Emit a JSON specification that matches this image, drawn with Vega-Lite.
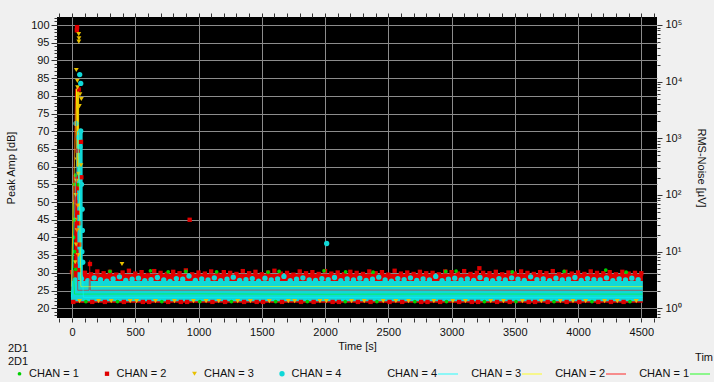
{
  "$schema": "https://vega.github.io/schema/vega-lite/v6.json",
  "width": 600,
  "height": 301,
  "autosize": {"type": "none"},
  "padding": {"left": 57, "top": 17, "right": 57, "bottom": 64},
  "background": "#f0f0f0",
  "config": {
    "font": "Liberation Sans",
    "view": {"fill": "#000000", "stroke": null},
    "axis": {"labelFontSize": 11, "labelColor": "#111111", "titleFontSize": 11, "titleFontWeight": "normal", "titleColor": "#111111", "tickColor": "#333333", "domain": false, "labelOverlap": false, "labelFlush": false},
    "legend": {"labelFontSize": 11, "labelColor": "#111111", "titleFontSize": 11, "titleFontWeight": "normal", "titleColor": "#111111"}
  },
  "datasets": {
    "blocks": [
      {"t1": -8, "t2": 4512, "a1": 21.6, "a2": 29.7, "c": 2},
      {"t1": -8, "t2": 120, "a1": 27, "a2": 30.6, "c": 2},
      {"t1": -8, "t2": 4512, "a1": 22.0, "a2": 27.7, "c": 4},
      {"t1": 18, "t2": 62, "a1": 30, "a2": 58, "c": 2},
      {"t1": 40, "t2": 84, "a1": 28, "a2": 70, "c": 4},
      {"t1": 32, "t2": 56, "a1": 60, "a2": 82, "c": 3}
    ],
    "rms": [
      {"t": -5, "v": 1.78, "c": 1}, {"t": 8, "v": 75, "c": 1}, {"t": 12, "v": 4.2, "c": 1}, {"t": 20, "v": 1.78, "c": 1}, {"t": 1000, "v": 1.8, "c": 1}, {"t": 2000, "v": 1.77, "c": 1}, {"t": 3000, "v": 1.79, "c": 1}, {"t": 4000, "v": 1.78, "c": 1}, {"t": 4510, "v": 1.78, "c": 1},
      {"t": -5, "v": 2.08, "c": 2}, {"t": 28, "v": 7500, "c": 2}, {"t": 32, "v": 1000, "c": 2}, {"t": 45, "v": 2.08, "c": 2}, {"t": 135, "v": 2.08, "c": 2}, {"t": 140, "v": 7, "c": 2}, {"t": 145, "v": 2.08, "c": 2}, {"t": 2000, "v": 2.1, "c": 2}, {"t": 4510, "v": 2.08, "c": 2},
      {"t": -5, "v": 2.41, "c": 3}, {"t": 35, "v": 7500, "c": 3}, {"t": 55, "v": 316, "c": 3}, {"t": 70, "v": 2.41, "c": 3}, {"t": 2000, "v": 2.43, "c": 3}, {"t": 4510, "v": 2.41, "c": 3},
      {"t": -5, "v": 1.56, "c": 4}, {"t": 45, "v": 1333, "c": 4}, {"t": 80, "v": 5.6, "c": 4}, {"t": 90, "v": 1.56, "c": 4}, {"t": 4510, "v": 1.56, "c": 4}
    ],
    "pts": [
      {"t":0,"a":30.2,"c":2},{"t":50,"a":30.8,"c":2},{"t":100,"a":30.0,"c":2},{"t":150,"a":29.6,"c":2},{"t":200,"a":30.4,"c":2},{"t":250,"a":29.9,"c":2},{"t":300,"a":30.3,"c":2},{"t":350,"a":29.5,"c":2},{"t":400,"a":30.1,"c":2},{"t":450,"a":30.6,"c":2},
      {"t":500,"a":29.8,"c":2},{"t":550,"a":30.2,"c":2},{"t":600,"a":29.4,"c":2},{"t":650,"a":30.5,"c":2},{"t":700,"a":30.0,"c":2},{"t":750,"a":29.7,"c":2},{"t":800,"a":30.3,"c":2},{"t":850,"a":29.9,"c":2},{"t":900,"a":30.7,"c":2},{"t":950,"a":29.6,"c":2},
      {"t":1000,"a":30.1,"c":2},{"t":1050,"a":29.8,"c":2},{"t":1100,"a":30.4,"c":2},{"t":1150,"a":29.5,"c":2},{"t":1200,"a":30.2,"c":2},{"t":1250,"a":30.0,"c":2},{"t":1300,"a":29.7,"c":2},{"t":1350,"a":30.5,"c":2},{"t":1400,"a":29.9,"c":2},{"t":1450,"a":30.3,"c":2},
      {"t":1500,"a":29.6,"c":2},{"t":1550,"a":30.1,"c":2},{"t":1600,"a":30.6,"c":2},{"t":1650,"a":29.8,"c":2},{"t":1700,"a":30.0,"c":2},{"t":1750,"a":29.5,"c":2},{"t":1800,"a":30.4,"c":2},{"t":1850,"a":29.9,"c":2},{"t":1900,"a":30.2,"c":2},{"t":1950,"a":29.7,"c":2},
      {"t":2000,"a":30.5,"c":2},{"t":2050,"a":29.8,"c":2},{"t":2100,"a":30.1,"c":2},{"t":2150,"a":29.6,"c":2},{"t":2200,"a":30.3,"c":2},{"t":2250,"a":30.0,"c":2},{"t":2300,"a":29.7,"c":2},{"t":2350,"a":30.4,"c":2},{"t":2400,"a":29.9,"c":2},{"t":2450,"a":30.2,"c":2},
      {"t":2500,"a":29.5,"c":2},{"t":2550,"a":30.6,"c":2},{"t":2600,"a":29.8,"c":2},{"t":2650,"a":30.1,"c":2},{"t":2700,"a":29.7,"c":2},{"t":2750,"a":30.3,"c":2},{"t":2800,"a":29.9,"c":2},{"t":2850,"a":30.0,"c":2},{"t":2900,"a":29.6,"c":2},{"t":2950,"a":30.4,"c":2},
      {"t":3000,"a":30.2,"c":2},{"t":3050,"a":29.8,"c":2},{"t":3100,"a":30.5,"c":2},{"t":3150,"a":29.7,"c":2},{"t":3200,"a":30.0,"c":2},{"t":3250,"a":30.0,"c":2},{"t":3300,"a":29.9,"c":2},{"t":3350,"a":30.3,"c":2},{"t":3400,"a":29.6,"c":2},{"t":3450,"a":30.1,"c":2},
      {"t":3500,"a":29.8,"c":2},{"t":3550,"a":30.4,"c":2},{"t":3600,"a":30.0,"c":2},{"t":3650,"a":29.7,"c":2},{"t":3700,"a":30.2,"c":2},{"t":3750,"a":29.9,"c":2},{"t":3800,"a":30.5,"c":2},{"t":3850,"a":29.6,"c":2},{"t":3900,"a":30.3,"c":2},{"t":3950,"a":29.8,"c":2},
      {"t":4000,"a":30.1,"c":2},{"t":4050,"a":29.7,"c":2},{"t":4100,"a":30.4,"c":2},{"t":4150,"a":30.0,"c":2},{"t":4200,"a":29.9,"c":2},{"t":4250,"a":30.2,"c":2},{"t":4300,"a":29.6,"c":2},{"t":4350,"a":30.3,"c":2},{"t":4400,"a":29.8,"c":2},{"t":4450,"a":30.0,"c":2},
      {"t":4500,"a":29.9,"c":2},{"t":3220,"a":31.3,"c":2},{"t":930,"a":45.0,"c":2},
      {"t":620,"a":30.6,"c":1},{"t":900,"a":30.4,"c":1},{"t":1143,"a":30.3,"c":1},{"t":1550,"a":30.2,"c":1},{"t":1637,"a":30.4,"c":1},{"t":1992,"a":30.6,"c":1},{"t":2163,"a":30.3,"c":1},{"t":2380,"a":30.2,"c":1},{"t":2954,"a":30.4,"c":1},{"t":3036,"a":30.5,"c":1},{"t":3480,"a":30.3,"c":1},{"t":3890,"a":30.4,"c":1},{"t":4219,"a":30.8,"c":1},{"t":4380,"a":30.2,"c":1},{"t":300,"a":30.4,"c":1},{"t":760,"a":30.3,"c":1},
      {"t":25,"a":28.0,"c":4},{"t":75,"a":28.4,"c":4},{"t":125,"a":27.8,"c":4},{"t":175,"a":28.6,"c":4},{"t":225,"a":28.1,"c":4},{"t":275,"a":27.7,"c":4},{"t":325,"a":28.3,"c":4},{"t":375,"a":28.9,"c":4},{"t":425,"a":27.9,"c":4},{"t":475,"a":28.2,"c":4},
      {"t":525,"a":28.5,"c":4},{"t":575,"a":27.8,"c":4},{"t":625,"a":28.1,"c":4},{"t":675,"a":28.7,"c":4},{"t":725,"a":28.0,"c":4},{"t":775,"a":27.6,"c":4},{"t":825,"a":28.4,"c":4},{"t":875,"a":28.2,"c":4},{"t":925,"a":29.1,"c":4},{"t":975,"a":27.9,"c":4},
      {"t":1025,"a":28.3,"c":4},{"t":1075,"a":28.0,"c":4},{"t":1125,"a":28.6,"c":4},{"t":1175,"a":27.8,"c":4},{"t":1225,"a":28.2,"c":4},{"t":1275,"a":28.8,"c":4},{"t":1325,"a":27.9,"c":4},{"t":1375,"a":28.1,"c":4},{"t":1425,"a":28.4,"c":4},{"t":1475,"a":27.7,"c":4},
      {"t":1525,"a":28.5,"c":4},{"t":1575,"a":28.0,"c":4},{"t":1625,"a":28.3,"c":4},{"t":1675,"a":29.0,"c":4},{"t":1725,"a":27.8,"c":4},{"t":1775,"a":28.2,"c":4},{"t":1825,"a":28.6,"c":4},{"t":1875,"a":28.0,"c":4},{"t":1925,"a":27.9,"c":4},{"t":1975,"a":28.4,"c":4},
      {"t":2025,"a":28.1,"c":4},{"t":2075,"a":28.7,"c":4},{"t":2125,"a":27.8,"c":4},{"t":2175,"a":28.3,"c":4},{"t":2225,"a":28.0,"c":4},{"t":2275,"a":28.5,"c":4},{"t":2325,"a":27.9,"c":4},{"t":2375,"a":28.2,"c":4},{"t":2425,"a":28.8,"c":4},{"t":2475,"a":28.0,"c":4},
      {"t":2525,"a":27.7,"c":4},{"t":2575,"a":28.4,"c":4},{"t":2625,"a":28.1,"c":4},{"t":2675,"a":28.6,"c":4},{"t":2725,"a":27.9,"c":4},{"t":2775,"a":28.3,"c":4},{"t":2825,"a":28.0,"c":4},{"t":2875,"a":29.0,"c":4},{"t":2925,"a":27.8,"c":4},{"t":2975,"a":28.2,"c":4},
      {"t":3025,"a":28.5,"c":4},{"t":3075,"a":28.0,"c":4},{"t":3125,"a":28.3,"c":4},{"t":3175,"a":27.9,"c":4},{"t":3225,"a":28.7,"c":4},{"t":3275,"a":28.1,"c":4},{"t":3325,"a":27.8,"c":4},{"t":3375,"a":28.4,"c":4},{"t":3425,"a":28.0,"c":4},{"t":3475,"a":28.6,"c":4},
      {"t":3525,"a":28.2,"c":4},{"t":3575,"a":27.9,"c":4},{"t":3625,"a":28.9,"c":4},{"t":3675,"a":28.1,"c":4},{"t":3725,"a":28.3,"c":4},{"t":3775,"a":27.8,"c":4},{"t":3825,"a":28.5,"c":4},{"t":3875,"a":28.0,"c":4},{"t":3925,"a":28.2,"c":4},{"t":3975,"a":28.7,"c":4},
      {"t":4025,"a":27.9,"c":4},{"t":4075,"a":28.4,"c":4},{"t":4125,"a":28.1,"c":4},{"t":4175,"a":28.0,"c":4},{"t":4225,"a":28.6,"c":4},{"t":4275,"a":27.8,"c":4},{"t":4325,"a":28.3,"c":4},{"t":4375,"a":28.0,"c":4},{"t":4425,"a":28.5,"c":4},{"t":4475,"a":28.1,"c":4},
      {"t":2013,"a":38.3,"c":4},
      {"t":10,"a":21.8,"c":2},{"t":60,"a":22.0,"c":3},{"t":110,"a":21.9,"c":1},{"t":160,"a":21.8,"c":2},{"t":210,"a":22.0,"c":3},{"t":260,"a":21.8,"c":2},{"t":310,"a":22.0,"c":3},{"t":360,"a":21.9,"c":1},{"t":410,"a":21.8,"c":2},{"t":460,"a":22.0,"c":3},
      {"t":510,"a":22.0,"c":3},{"t":560,"a":21.8,"c":2},{"t":610,"a":21.8,"c":2},{"t":660,"a":22.0,"c":3},{"t":710,"a":21.9,"c":1},{"t":760,"a":21.8,"c":2},{"t":810,"a":22.0,"c":3},{"t":860,"a":21.8,"c":2},{"t":910,"a":21.8,"c":2},{"t":960,"a":22.0,"c":3},
      {"t":1010,"a":21.9,"c":1},{"t":1060,"a":22.0,"c":3},{"t":1110,"a":21.8,"c":2},{"t":1160,"a":22.0,"c":3},{"t":1210,"a":21.8,"c":2},{"t":1260,"a":21.9,"c":1},{"t":1310,"a":22.0,"c":3},{"t":1360,"a":21.8,"c":2},{"t":1410,"a":22.0,"c":3},{"t":1460,"a":21.8,"c":2},
      {"t":1510,"a":21.8,"c":2},{"t":1560,"a":22.0,"c":3},{"t":1610,"a":21.9,"c":1},{"t":1660,"a":21.8,"c":2},{"t":1710,"a":22.0,"c":3},{"t":1760,"a":22.0,"c":3},{"t":1810,"a":21.8,"c":2},{"t":1860,"a":21.9,"c":1},{"t":1910,"a":21.8,"c":2},{"t":1960,"a":22.0,"c":3},
      {"t":2010,"a":22.0,"c":3},{"t":2060,"a":21.8,"c":2},{"t":2110,"a":21.8,"c":2},{"t":2160,"a":21.9,"c":1},{"t":2210,"a":22.0,"c":3},{"t":2260,"a":21.8,"c":2},{"t":2310,"a":22.0,"c":3},{"t":2360,"a":21.8,"c":2},{"t":2410,"a":21.9,"c":1},{"t":2460,"a":22.0,"c":3},
      {"t":2510,"a":21.8,"c":2},{"t":2560,"a":22.0,"c":3},{"t":2610,"a":21.8,"c":2},{"t":2660,"a":22.0,"c":3},{"t":2710,"a":21.9,"c":1},{"t":2760,"a":21.8,"c":2},{"t":2810,"a":21.8,"c":2},{"t":2860,"a":22.0,"c":3},{"t":2910,"a":21.8,"c":2},{"t":2960,"a":21.9,"c":1},
      {"t":3010,"a":22.0,"c":3},{"t":3060,"a":21.8,"c":2},{"t":3110,"a":22.0,"c":3},{"t":3160,"a":21.8,"c":2},{"t":3210,"a":21.8,"c":2},{"t":3260,"a":21.9,"c":1},{"t":3310,"a":22.0,"c":3},{"t":3360,"a":21.8,"c":2},{"t":3410,"a":22.0,"c":3},{"t":3460,"a":21.8,"c":2},
      {"t":3510,"a":21.9,"c":1},{"t":3560,"a":22.0,"c":3},{"t":3610,"a":21.8,"c":2},{"t":3660,"a":21.8,"c":2},{"t":3710,"a":22.0,"c":3},{"t":3760,"a":21.8,"c":2},{"t":3810,"a":21.9,"c":1},{"t":3860,"a":22.0,"c":3},{"t":3910,"a":21.8,"c":2},{"t":3960,"a":22.0,"c":3},
      {"t":4010,"a":21.8,"c":2},{"t":4060,"a":22.0,"c":3},{"t":4110,"a":21.9,"c":1},{"t":4160,"a":21.8,"c":2},{"t":4210,"a":22.0,"c":3},{"t":4260,"a":21.8,"c":2},{"t":4310,"a":22.0,"c":3},{"t":4360,"a":21.8,"c":2},{"t":4410,"a":21.9,"c":1},{"t":4460,"a":22.0,"c":3},
      {"t":40,"a":99.4,"c":2},{"t":38,"a":98.5,"c":2},{"t":53,"a":81.8,"c":2},{"t":71,"a":67.0,"c":2},{"t":44,"a":64.5,"c":2},{"t":74,"a":57.0,"c":2},{"t":42,"a":53.9,"c":2},{"t":30,"a":57,"c":2},{"t":25,"a":50,"c":2},{"t":45,"a":47,"c":2},{"t":22,"a":40,"c":2},{"t":35,"a":36,"c":2},{"t":28,"a":32,"c":2},{"t":55,"a":44,"c":2},{"t":60,"a":38,"c":2},{"t":142,"a":32.5,"c":2},
      {"t":53,"a":97.4,"c":3},{"t":55,"a":96.2,"c":3},{"t":54,"a":95.3,"c":3},{"t":34,"a":87.3,"c":3},{"t":42,"a":84.2,"c":3},{"t":44,"a":82.4,"c":3},{"t":63,"a":80.4,"c":3},{"t":74,"a":79.1,"c":3},{"t":58,"a":77.1,"c":3},{"t":71,"a":60.4,"c":3},{"t":35,"a":56,"c":3},{"t":30,"a":52,"c":3},{"t":45,"a":49,"c":3},{"t":28,"a":45,"c":3},{"t":40,"a":42,"c":3},{"t":33,"a":38,"c":3},{"t":48,"a":35,"c":3},{"t":25,"a":33,"c":3},{"t":50,"a":58,"c":3},{"t":38,"a":62,"c":3},{"t":395,"a":32.5,"c":3},
      {"t":61,"a":86.0,"c":4},{"t":69,"a":83.5,"c":4},{"t":32,"a":72.2,"c":4},{"t":69,"a":70.1,"c":4},{"t":53,"a":68.3,"c":4},{"t":63,"a":65.6,"c":4},{"t":75,"a":55,"c":4},{"t":80,"a":48,"c":4},{"t":82,"a":42,"c":4},{"t":78,"a":36,"c":4},{"t":85,"a":33,"c":4},
      {"t":29,"a":57.6,"c":1},{"t":16,"a":55.0,"c":1},{"t":50,"a":54.9,"c":1},{"t":15,"a":45,"c":1},{"t":20,"a":36,"c":1},{"t":30,"a":31,"c":1},{"t":12,"a":40,"c":1}
    ]
  },
  "resolve": {"scale": {"y": "independent"}, "axis": {"x": "independent"}},
  "layer": [
    {
      "data": {"name": "blocks"},
      "mark": {"type": "rect"},
      "encoding": {
        "x": {"field": "t1", "type": "quantitative", "scale": {"domain": [-118.6, 4624], "nice": false, "zero": false},
          "axis": {"orient": "bottom", "values": [-100,0,100,200,300,400,500,600,700,800,900,1000,1100,1200,1300,1400,1500,1600,1700,1800,1900,2000,2100,2200,2300,2400,2500,2600,2700,2800,2900,3000,3100,3200,3300,3400,3500,3600,3700,3800,3900,4000,4100,4200,4300,4400,4500,4600],
            "format": "d", "labelExpr": "datum.value % 500 == 0 ? datum.label : ''", "grid": true, "gridColor": "#8c8c8c",
            "gridOpacity": {"condition": {"test": "datum.value % 500 == 0", "value": 1}, "value": 0},
            "tickSize": 4, "labelPadding": 4, "title": "Time [s]", "titlePadding": 3}},
        "x2": {"field": "t2"},
        "y": {"field": "a1", "type": "quantitative", "scale": {"domain": [17.26, 102.26], "nice": false, "zero": false},
          "axis": {"orient": "left", "values": [17,18,19,20,21,22,23,24,25,26,27,28,29,30,31,32,33,34,35,36,37,38,39,40,41,42,43,44,45,46,47,48,49,50,51,52,53,54,55,56,57,58,59,60,61,62,63,64,65,66,67,68,69,70,71,72,73,74,75,76,77,78,79,80,81,82,83,84,85,86,87,88,89,90,91,92,93,94,95,96,97,98,99,100,101,102],
            "format": "d", "labelExpr": "datum.value % 5 == 0 ? datum.label : ''", "grid": true, "gridColor": "#8c8c8c",
            "gridOpacity": {"condition": {"test": "datum.value % 5 == 0", "value": 1}, "value": 0},
            "tickSize": {"condition": {"test": "datum.value % 5 == 0", "value": 6}, "value": 3},
            "labelPadding": 2, "title": "Peak Amp [dB]", "titlePadding": 14}},
        "y2": {"field": "a2"},
        "fill": {"field": "c", "type": "nominal", "scale": {"domain": [1, 2, 3, 4], "range": ["#00d000", "#e00000", "#e8c000", "#10d8d8"]},
          "legend": {"orient": "none", "legendX": -49, "legendY": 326, "direction": "horizontal", "title": ["2D1", "2D1"], "titleLineHeight": 13, "titlePadding": 1, "symbolSize": 25, "symbolOffset": 6, "labelOffset": 4, "columnPadding": 16.5, "symbolStrokeWidth": 0, "labelExpr": "'CHAN = ' + datum.label"}}
      }
    },
    {
      "data": {"name": "pts"},
      "mark": {"type": "point", "filled": true, "opacity": 1, "strokeWidth": 0},
      "encoding": {
        "x": {"field": "t", "type": "quantitative", "axis": null},
        "y": {"field": "a", "type": "quantitative", "scale": {"domain": [17.26, 102.26], "nice": false, "zero": false}, "axis": null},
        "size": {"field": "c", "type": "ordinal", "scale": {"domain": [1, 2, 3, 4], "range": [14, 28, 22, 16]}, "legend": null},
        "fill": {"field": "c", "type": "nominal",
          "legend": {"orient": "none", "legendX": -49, "legendY": 326, "direction": "horizontal", "title": ["2D1", "2D1"], "titleLineHeight": 13, "titlePadding": 1, "symbolSize": 25, "symbolOffset": 6, "labelOffset": 4, "columnPadding": 16.5, "symbolStrokeWidth": 0, "labelExpr": "'CHAN = ' + datum.label"}},
        "shape": {"field": "c", "type": "nominal", "scale": {"domain": [1, 2, 3, 4], "range": ["circle", "square", "triangle-down", "circle"]},
          "legend": {"orient": "none", "legendX": -49, "legendY": 326, "direction": "horizontal", "title": ["2D1", "2D1"], "titleLineHeight": 13, "titlePadding": 1, "symbolSize": 25, "symbolOffset": 6, "labelOffset": 4, "columnPadding": 16.5, "symbolStrokeWidth": 0, "labelExpr": "'CHAN = ' + datum.label"}}
      }
    },
    {
      "data": {"name": "rms"},
      "mark": {"type": "line", "strokeWidth": 1, "opacity": 0.55},
      "encoding": {
        "x": {"field": "t", "type": "quantitative", "axis": {"orient": "top", "values": [-100,0,100,200,300,400,500,600,700,800,900,1000,1100,1200,1300,1400,1500,1600,1700,1800,1900,2000,2100,2200,2300,2400,2500,2600,2700,2800,2900,3000,3100,3200,3300,3400,3500,3600,3700,3800,3900,4000,4100,4200,4300,4400,4500,4600], "labels": false, "grid": false, "tickSize": 4, "title": null}},
        "y": {"field": "v", "type": "quantitative", "scale": {"type": "log", "domain": [0.674, 138400], "nice": false},
          "axis": {"orient": "right", "values": [0.7,0.8,0.9,1,2,3,4,5,6,7,8,9,10,20,30,40,50,60,70,80,90,100,200,300,400,500,600,700,800,900,1000,2000,3000,4000,5000,6000,7000,8000,9000,10000,20000,30000,40000,50000,60000,70000,80000,90000,100000],
            "labelExpr": "abs(log(datum.value)/LN10 - round(log(datum.value)/LN10)) < 0.001 ? '10' + ['⁰','¹','²','³','⁴','⁵'][round(log(datum.value)/LN10)] : ''",
            "tickSize": {"condition": {"test": "abs(log(datum.value)/LN10 - round(log(datum.value)/LN10)) < 0.001", "value": 5}, "value": 3},
            "grid": false, "labelPadding": 3, "title": "RMS-Noise [µV]", "titlePadding": 14}},
        "stroke": {"field": "c", "type": "nominal", "scale": {"domain": [4, 3, 2, 1], "range": ["#00ffff", "#ffff00", "#ff0000", "#00ff00"]},
          "legend": {"orient": "none", "legendX": 380, "legendY": 335, "direction": "horizontal", "title": "Tim", "titleAnchor": "end", "titlePadding": 0, "symbolType": "stroke", "symbolSize": 400, "symbolStrokeWidth": 1.5, "labelAlign": "right", "labelOffset": -22, "columnPadding": 10, "labelExpr": "'CHAN = ' + datum.label"}}
      }
    }
  ]
}
